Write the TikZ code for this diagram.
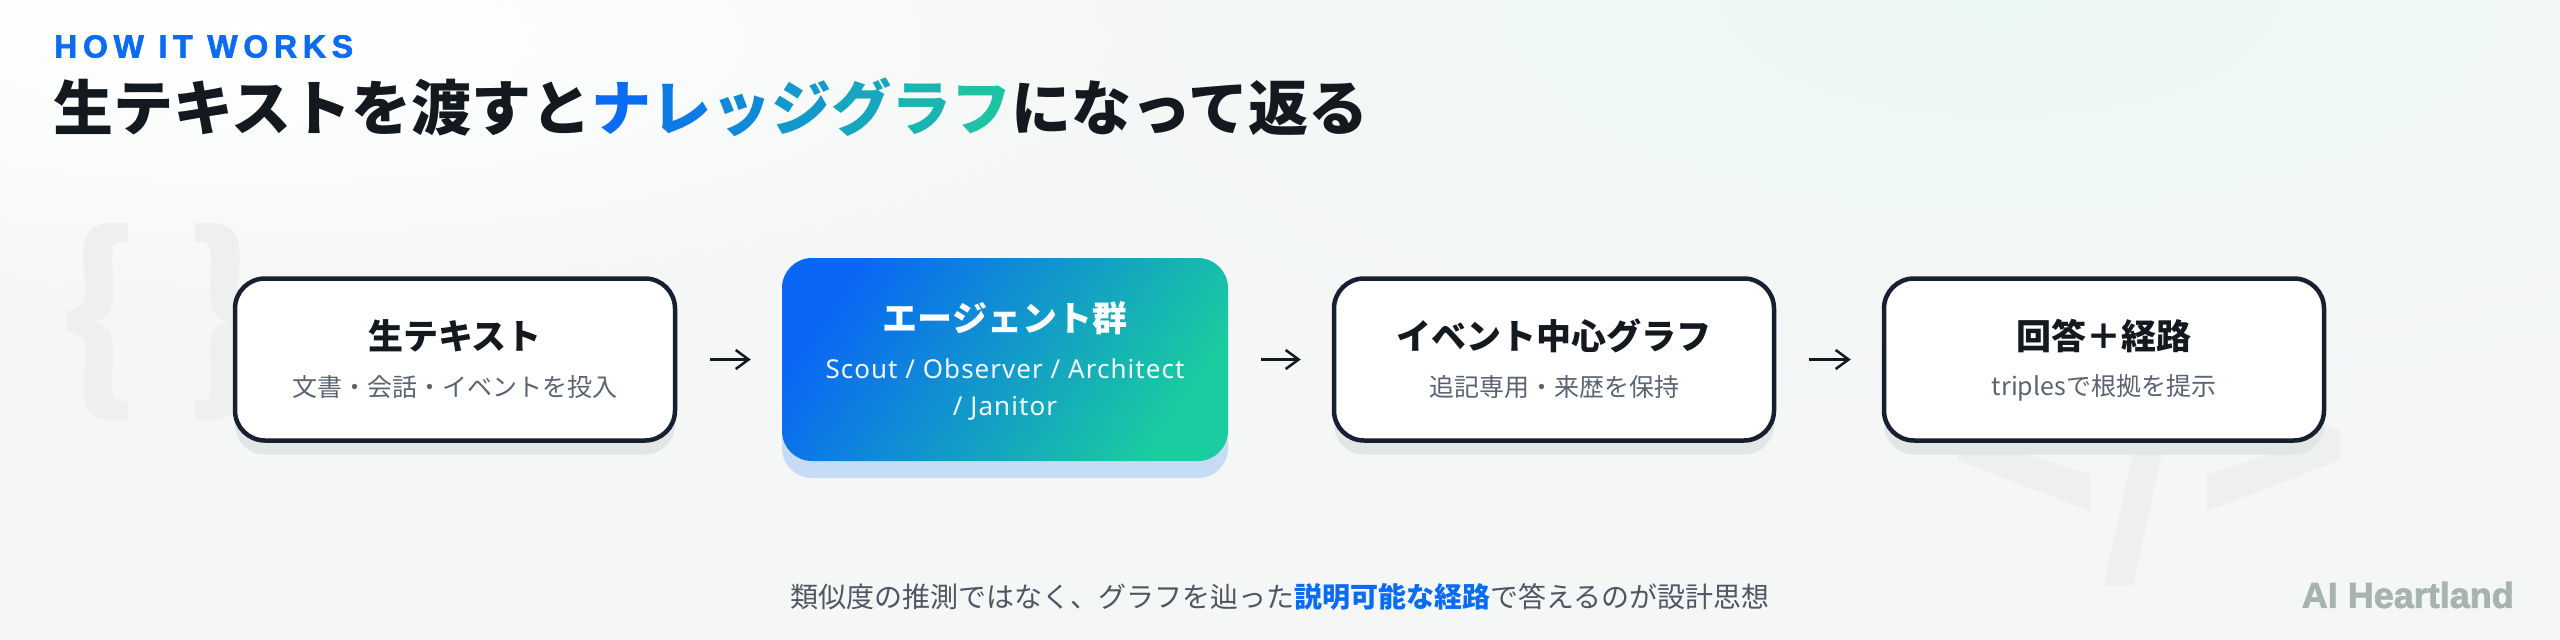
\documentclass[tikz,border=0pt]{standalone}
\usepackage{fontspec}
\setmainfont{Noto Sans CJK JP}
\newfontfamily\heavyfont{Noto Sans CJK JP Black}
\newfontfamily\kickerfont[LetterSpace=18, FakeBold=2]{Liberation Sans Bold}
\newfontfamily\brandfont[FakeBold=2]{Liberation Sans Bold}
\newfontfamily\latinfont[LetterSpace=4]{Noto Sans}
\usepackage{xcolor}
\usepackage{tikz}
\usetikzlibrary{arrows.meta,shadows}

\definecolor{inkdark}{HTML}{14181F}
\definecolor{boxedge}{HTML}{172030}
\definecolor{subgray}{HTML}{5B6372}
\definecolor{notegray}{HTML}{4E5563}
\definecolor{brandblue}{HTML}{0A6CF2}
\definecolor{brandteal}{HTML}{1CC4A4}
\definecolor{cardblue}{HTML}{0A66F5}
\definecolor{cardgreen}{HTML}{1ACC9F}
\definecolor{pagebg}{HTML}{F5F7F7}
\definecolor{mintglow}{HTML}{ECF8F2}
\definecolor{shadowgray}{HTML}{E2E6E7}
\definecolor{shadowblue}{HTML}{C6DCF5}
\definecolor{decogray}{HTML}{EEF0F0}
\definecolor{logogray}{HTML}{A7B4AD}

\begin{document}
\begin{tikzpicture}[x=1pt, y=-1pt, >=Straight Barb]
    \tikzset{stepcard/.style={draw=boxedge, line width=4.5pt, fill=white,
        rounded corners=30pt, minimum width=440pt, minimum height=162pt,
        inner sep=0pt, drop shadow={shadow xshift=0pt, shadow yshift=-14pt,
        fill=shadowgray, opacity=1}}}
    \tikzset{agentcard/.style={draw=none, rounded corners=30pt,
        minimum width=446pt, minimum height=203pt, inner sep=0pt,
        top color=cardblue, bottom color=cardgreen, shading angle=55,
        drop shadow={shadow xshift=0pt, shadow yshift=-17pt,
        fill=shadowblue, opacity=1}}}
    \tikzset{cardtitle/.style={inner sep=0pt, text=inkdark,
        font=\fontsize{35}{35}\heavyfont}}
    \tikzset{cardsub/.style={inner sep=0pt, text=subgray,
        font=\fontsize{25}{25}\selectfont}}
    \tikzset{agentline/.style={inner sep=0pt, anchor=base, text=white,
        opacity=0.95, font=\fontsize{26}{26}\latinfont}}
    \tikzset{flowarrow/.style={draw=inkdark, line width=2.5pt,
        -{Straight Barb[length=13pt, width=19pt]},
        shorten <=33pt, shorten >=31pt}}
    \useasboundingbox (0,0) rectangle (2560,640);
    % page background
    \fill[pagebg] (0,0) rectangle (2560,640);
    \shade[inner color=mintglow, outer color=pagebg] (2000,0)
        ellipse [x radius=1000, y radius=420];
    \shade[inner color=white, outer color=pagebg] (250,40)
        ellipse [x radius=900, y radius=260];
    % faint code marks
    \node[text=decogray, inner sep=0pt, font=\fontsize{200}{200}\heavyfont]
        (braces) at (162,322) {\{\hspace{45pt}\}};
    \node[text=decogray, inner sep=0pt, anchor=base,
        font=\fontsize{250}{250}\heavyfont] (slashtag) at (2149,540) {</>};
    % heading
    \node[anchor=west, inner sep=0pt, text=brandblue,
        font=\fontsize{32}{32}\kickerfont] (kicker) at (54,46.5) {HOW IT WORKS};
    \node[anchor=west, inner sep=0pt, text=inkdark,
        font=\fontsize{60}{60}\heavyfont] (headline) at (53,107.5)
        {生テキストを渡すと\textcolor{brandblue}{ナ}\textcolor{brandblue!84!brandteal}{レ}%
        \textcolor{brandblue!67!brandteal}{ッ}\textcolor{brandblue!50!brandteal}{ジ}%
        \textcolor{brandblue!33!brandteal}{グ}\textcolor{brandblue!17!brandteal}{ラ}%
        \textcolor{brandteal}{フ}になって返る};
    % pipeline cards
    \node[stepcard] (raw) at (455,359.5) {};
    \node[cardtitle] (rawtitle) at (455,336) {生テキスト};
    \node[cardsub] (rawsub) at (455,387.5) {文書・会話・イベントを投入};

    \node[agentcard] (agents) at (1005,359.5) {};
    \node[cardtitle, text=white] (agentstitle) at (1005,318) {エージェント群};
    \node[agentline] (agentsline) at (1005,378) {Scout / Observer / Architect};
    \node[agentline] (agentswrap) at (1005,415) {/ Janitor};

    \node[stepcard] (graph) at (1554,359.5) {};
    \node[cardtitle] (graphtitle) at (1554,336) {イベント中心グラフ};
    \node[cardsub] (graphsub) at (1554,387.5) {追記専用・来歴を保持};

    \node[stepcard] (answer) at (2104,359.5) {};
    \node[cardtitle] (answertitle) at (2104,336) {回答＋経路};
    \node[cardsub] (answersub) at (2104,387.5) {triplesで根拠を提示};

    \draw[flowarrow] (raw) -- (agents);
    \draw[flowarrow] (agents) -- (graph);
    \draw[flowarrow] (graph) -- (answer);
    % footer
    \node[inner sep=0pt, text=notegray, font=\fontsize{28}{28}\selectfont] (note)
        at (1280,596.5) {類似度の推測ではなく、グラフを辿った%
        {\bfseries\color{brandblue}説明可能な経路}で答えるのが設計思想};
    \node[anchor=east, inner sep=0pt, text=logogray,
        font=\fontsize{36}{36}\brandfont] (brand) at (2514,595) {AI Heartland};
\end{tikzpicture}
\end{document}
